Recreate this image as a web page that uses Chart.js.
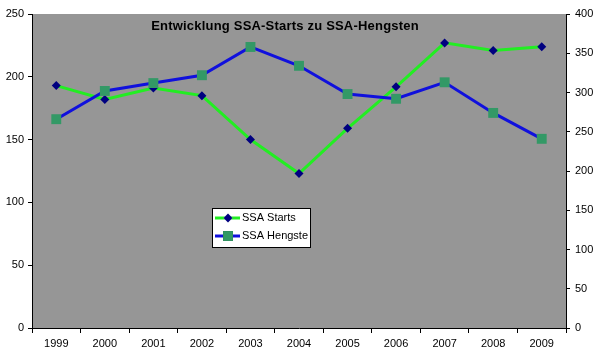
<!DOCTYPE html>
<html>
<head>
<meta charset="utf-8">
<script src="https://cdn.jsdelivr.net/npm/chart.js@4/dist/chart.umd.min.js"></script>
<style>
   html, body { margin: 0; padding: 0; background: #fff; }
   #wrap { width: 600px; height: 359px; }
</style>
</head>
<body>
<div id="wrap"><canvas id="chart" width="600" height="359"></canvas></div>
<script>
const years = ['1999', '2000', '2001', '2002', '2003', '2004', '2005', '2006', '2007', '2008', '2009'];
const ssaStarts = [193, 182, 191, 185, 150, 123, 159, 192, 227, 221, 224];
const ssaHengste = [266, 302, 312, 322, 358, 334, 298, 292, 313, 274, 241];
const titleText = 'Entwicklung SSA-Starts zu SSA-Hengsten';

document.addEventListener('DOMContentLoaded', initApp);

function initApp() {
   Chart.defaults.font.family = '"Liberation Sans", Arial, sans-serif';
   Chart.defaults.font.size = 11;
   Chart.defaults.color = '#000';

   const plotBackground = {
      id: 'plotBackground',
      beforeDraw(chart) {
         const { ctx, chartArea } = chart;
         ctx.save();
         ctx.fillStyle = '#969696';
         ctx.fillRect(chartArea.left, chartArea.top, chartArea.right - chartArea.left, chartArea.bottom - chartArea.top);
         ctx.restore();
      },
   };

   const innerTitle = {
      id: 'innerTitle',
      afterDatasetsDraw(chart) {
         const { ctx } = chart;
         ctx.save();
         ctx.font = 'bold 13px "Liberation Sans", Arial, sans-serif';
         ctx.letterSpacing = '0.2px';
         ctx.fillStyle = '#000';
         ctx.textAlign = 'center';
         ctx.textBaseline = 'middle';
         ctx.fillText(titleText, 285, 26);
         ctx.restore();
      },
   };

   const boxLegend = {
      id: 'boxLegend',
      afterDraw(chart) {
         const { ctx } = chart;
         const x = 212, y = 208, w = 98, h = 39;
         ctx.save();
         ctx.fillStyle = '#fff';
         ctx.fillRect(x, y, w, h);
         ctx.strokeStyle = '#000';
         ctx.lineWidth = 1;
         ctx.strokeRect(x + 0.5, y + 0.5, w, h);
         chart.data.datasets.forEach((ds, i) => {
            const cy = y + 10 + i * 18;
            ctx.strokeStyle = ds.borderColor;
            ctx.lineWidth = 3;
            ctx.beginPath();
            ctx.moveTo(x + 3, cy);
            ctx.lineTo(x + 28, cy);
            ctx.stroke();
            Chart.helpers.drawPoint(ctx, {
               pointStyle: ds.pointStyle,
               radius: ds.pointRadius,
               borderWidth: 0,
            }, x + 16, cy);
            ctx.fillStyle = ds.pointBackgroundColor;
            ctx.fill();
            ctx.fillStyle = '#000';
            ctx.font = '11px "Liberation Sans", Arial, sans-serif';
            ctx.textBaseline = 'middle';
            ctx.fillText(ds.label, x + 30, cy);
         });
         ctx.restore();
      },
   };

   new Chart(document.getElementById('chart').getContext('2d'), {
      type: 'line',
      data: {
         labels: years,
         datasets: [{
            label: 'SSA Starts',
            data: ssaStarts,
            yAxisID: 'y',
            borderColor: '#22ee22',
            borderWidth: 3,
            pointStyle: 'rectRot',
            pointRadius: 4.5,
            pointBorderWidth: 0,
            pointBackgroundColor: '#000080',
            pointBorderColor: '#000080',
            order: 2,
         }, {
            label: 'SSA Hengste',
            data: ssaHengste,
            yAxisID: 'y1',
            borderColor: '#1010dd',
            borderWidth: 3,
            pointStyle: 'rect',
            pointRadius: 7,
            pointBorderWidth: 0,
            pointBackgroundColor: '#339966',
            pointBorderColor: '#339966',
            order: 1,
         }],
      },
      options: {
         responsive: false,
         animation: false,
         layout: { padding: { top: 14, left: 0, right: 0, bottom: 0 } },
         plugins: {
            legend: { display: false },
            tooltip: { enabled: false },
         },
         scales: {
            x: {
               offset: true,
               grid: { offset: true, drawOnChartArea: false, color: '#000', tickLength: 5 },
               border: { color: '#000' },
               ticks: { padding: 4, maxRotation: 0 },
               afterFit(scale) { scale.height = 31; },
            },
            y: {
               position: 'left',
               min: 0,
               max: 250,
               ticks: { stepSize: 50, padding: 4 },
               grid: { drawOnChartArea: false, color: '#000', tickLength: 4 },
               border: { color: '#000' },
               afterFit(scale) { scale.width = 32; },
            },
            y1: {
               position: 'right',
               min: 0,
               max: 400,
               ticks: { stepSize: 50, padding: 5 },
               grid: { drawOnChartArea: false, color: '#000', tickLength: 4 },
               border: { color: '#000' },
               afterFit(scale) { scale.width = 34; },
            },
         },
      },
      plugins: [plotBackground, innerTitle, boxLegend],
   });
}
</script>
</body>
</html>
